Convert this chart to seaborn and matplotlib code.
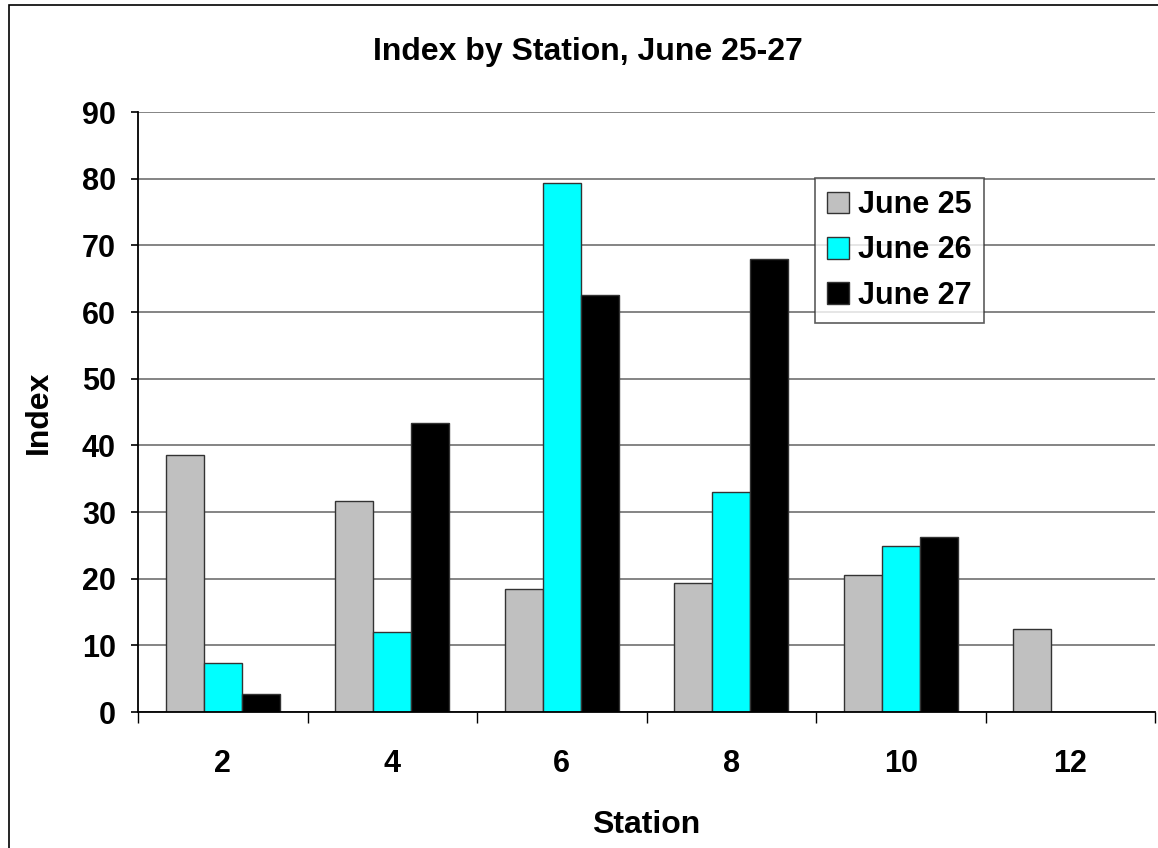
import matplotlib
matplotlib.use("Agg")
import matplotlib.pyplot as plt
from matplotlib.patches import Rectangle
import numpy as np
import pandas as pd
import seaborn as sns

# Index values per station for each survey day (station 12 sampled on June 25 only)
stations = ["2", "4", "6", "8", "10", "12"]
days = ["June 25", "June 26", "June 27"]
june25 = [38.6, 31.6, 18.4, 19.3, 20.6, 12.4]
june26 = [7.4, 12.0, 79.4, 33.0, 24.9, np.nan]
june27 = [2.7, 43.4, 62.5, 67.9, 26.3, np.nan]
y_ticks = [0, 10, 20, 30, 40, 50, 60, 70, 80, 90]

df = pd.DataFrame({
    "Station": stations * 3,
    "Day": [d for d in days for _ in stations],
    "Index": june25 + june26 + june27,
})

sns.set_theme(style="white")
plt.rcParams["font.family"] = ["Liberation Sans", "DejaVu Sans"]
plt.rcParams["font.weight"] = "bold"
plt.rcParams["text.color"] = "black"
plt.rcParams["axes.labelcolor"] = "black"
plt.rcParams["xtick.color"] = "black"
plt.rcParams["ytick.color"] = "black"

W, H = 1158, 848
fig = plt.figure(figsize=(W / 100, H / 100), dpi=100)
fig.patch.set_facecolor("white")

# outer chart frame
fig.patches.append(Rectangle((9 / W, -0.05), 1.2, 1 - 5 / H + 0.05,
                             transform=fig.transFigure, fill=False,
                             edgecolor="black", linewidth=1.2))

ax = fig.add_axes([138 / W, (H - 712) / H, (1155 - 138) / W, 600 / H])

palette = {"June 25": "#C0C0C0", "June 26": "#00FFFF", "June 27": "#000000"}
sns.barplot(data=df, x="Station", y="Index", hue="Day", order=stations,
            hue_order=days, palette=palette, width=0.67, saturation=1,
            edgecolor="#333333", linewidth=1.0, errorbar=None, ax=ax)

ax.set_xlim(-0.5, len(stations) - 0.5)
ax.set_ylim(0, 90)
ax.set_yticks(y_ticks)
ax.set_yticklabels([str(v) for v in y_ticks])
ax.yaxis.grid(True, color="#707070", linewidth=1.2)
ax.set_axisbelow(True)

for side in ["top", "right"]:
    ax.spines[side].set_visible(False)
for side in ["left", "bottom"]:
    ax.spines[side].set_visible(True)
    ax.spines[side].set_color("black")
    ax.spines[side].set_linewidth(1.3)

ax.tick_params(axis="y", which="major", length=5, width=1.2, color="black",
               direction="out", left=True, labelsize=22, pad=11, labelcolor="black")
ax.tick_params(axis="x", which="major", length=0, labelsize=22, pad=27, labelcolor="black")
ax.set_xticks(np.arange(-0.5, len(stations) + 0.5, 1), minor=True)
ax.tick_params(axis="x", which="minor", length=8, width=1.0, color="black",
               direction="out", bottom=True)
for lab in ax.get_xticklabels() + ax.get_yticklabels():
    lab.set_fontweight("bold")

ax.set_xlabel("Station", fontsize=23, fontweight="bold", labelpad=22, color="black")
ax.set_ylabel("Index", fontsize=23, fontweight="bold", labelpad=20, color="black")
fig.text(588 / W, 1 - 52 / H, "Index by Station, June 25-27", fontsize=23,
         fontweight="bold", color="black", ha="center", va="center")

leg = ax.legend(loc="upper left", bbox_to_anchor=((815 - 138) / (1155 - 138), (712 - 178) / 600),
                fontsize=22, frameon=True, fancybox=False, handlelength=0.7,
                handleheight=0.7, handletextpad=0.3, borderpad=0.4,
                labelspacing=0.5, borderaxespad=0, title=None)
leg.get_frame().set_edgecolor("#333333")
leg.get_frame().set_linewidth(1.2)
for t in leg.get_texts():
    t.set_fontweight("bold")
    t.set_color("black")

fig.savefig("out.png", dpi=100, facecolor="white")
